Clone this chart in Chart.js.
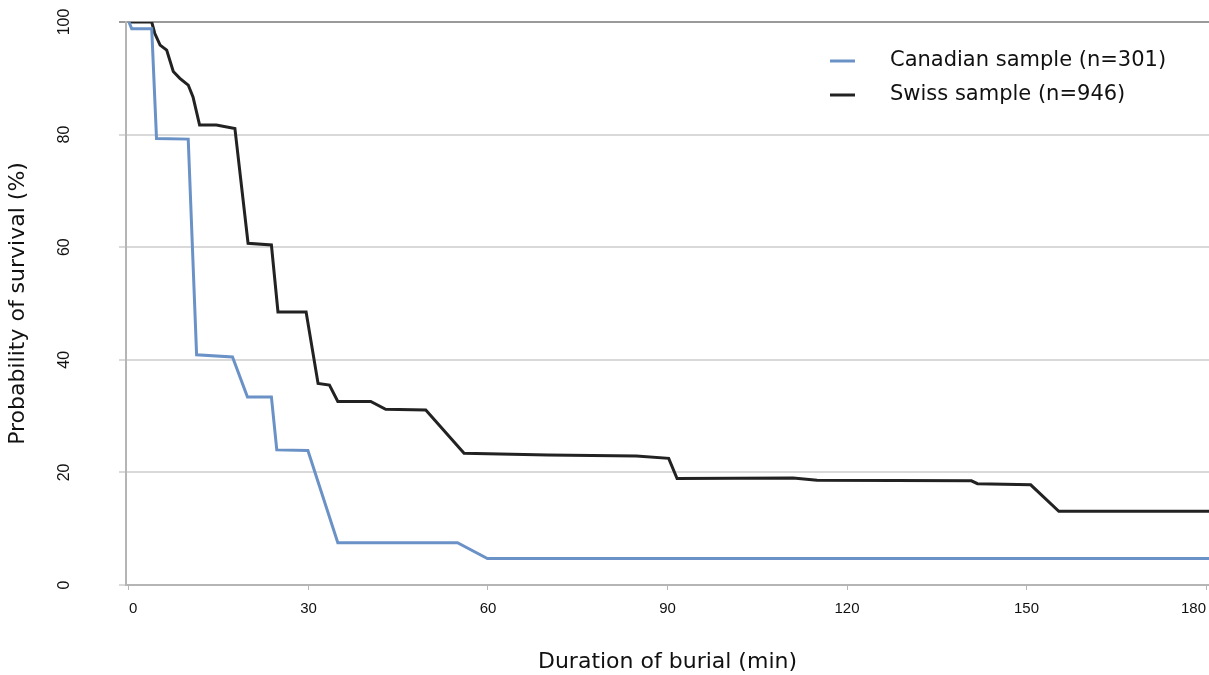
<!DOCTYPE html>
<html>
<head>
<meta charset="utf-8">
<script src="https://cdn.jsdelivr.net/npm/chart.js@4.4.1/dist/chart.umd.min.js"></script>
<style>
  body { margin: 0; background: #ffffff; }
  #wrap { position: relative; width: 1209px; height: 675px; }
</style>
</head>
<body>
<div id="wrap"><canvas id="survChart"></canvas></div>
<script>
// === DATI ===
const canadianLabel = "Canadian sample (n=301)";
const canadianTime = [0, 0.45, 3.8, 4.6, 9.9, 11.3, 17.3, 19.8, 23.8, 24.7, 29.9, 34.9, 54.9, 59.9, 180.5];
const canadianSurv = [100, 98.8, 98.8, 79.3, 79.2, 40.9, 40.5, 33.4, 33.4, 24.0, 23.9, 7.5, 7.5, 4.7, 4.7];

const swissLabel = "Swiss sample (n=946)";
const swissTime = [0, 3.8, 4.3, 5.2, 6.3, 7.4, 8.5, 9.9, 10.7, 11.8, 14.6, 17.7, 19.9, 23.8, 24.9, 29.6, 31.6, 33.5, 34.9, 40.4,
                   42.9, 49.6, 56.0, 70.0, 84.8, 90.2, 91.6, 111, 115, 140.8, 141.8, 150.7, 155.4, 180.5];
const swissSurv = [100, 100, 98.0, 95.9, 95.0, 91.2, 90.0, 88.8, 86.7, 81.7, 81.7, 81.1, 60.7, 60.4, 48.5, 48.5, 35.8, 35.5, 32.6, 32.6,
                   31.2, 31.1, 23.4, 23.1, 22.9, 22.5, 18.9, 19.0, 18.6, 18.5, 18.0, 17.8, 13.1, 13.1];

const xTicks = [0, 30, 60, 90, 120, 150, 180];
const yTicks = [0, 20, 40, 60, 80, 100];

const xTitle = "Duration of burial (min)";
const yTitle = "Probability of survival (%)";

// === COLORI ===
const COLORS = {
    canadian: "#6b92c6",
    swiss: "#222222",
    grid: "#d9d9d9",
    gridTop: "#9a9a9a",
    axis: "#b5b5b5",
    text: "#111111"
};

const TEXT_FONT = "'DejaVu Sans', sans-serif";
const TICK_FONT = "'Liberation Sans', Arial, sans-serif";

function toPoints(xs, ys) {
    return xs.map((x, i) => ({ x: x, y: ys[i] }));
}

// legenda disegnata dentro l'area del grafico, in alto a destra
const insideLegend = {
    id: "insideLegend",
    afterDraw(chart) {
        const ctx = chart.ctx;
        const area = chart.chartArea;
        const x0 = area.right - 379;
        const y0 = area.top + 39;
        ctx.save();
        ctx.font = "21px " + TEXT_FONT;
        ctx.textBaseline = "middle";
        ctx.textAlign = "left";
        chart.data.datasets.forEach((ds, i) => {
            const y = y0 + i * 34;
            ctx.strokeStyle = ds.borderColor;
            ctx.lineWidth = 3;
            ctx.beginPath();
            ctx.moveTo(x0, y);
            ctx.lineTo(x0 + 25, y);
            ctx.stroke();
            ctx.fillStyle = COLORS.text;
            ctx.fillText(ds.label, x0 + 60, y);
        });
        ctx.restore();
    }
};

const ctx = document.getElementById("survChart").getContext("2d");
new Chart(ctx, {
    type: "line",
    data: {
        datasets: [
            {
                label: canadianLabel,
                data: toPoints(canadianTime, canadianSurv),
                borderColor: COLORS.canadian,
                borderWidth: 3,
                pointRadius: 0,
                tension: 0
            },
            {
                label: swissLabel,
                data: toPoints(swissTime, swissSurv),
                borderColor: COLORS.swiss,
                borderWidth: 3,
                pointRadius: 0,
                tension: 0
            }
        ]
    },
    options: {
        responsive: true,
        maintainAspectRatio: false,
        animation: false,
        layout: { padding: { top: 22, right: 0, left: 0, bottom: 0 } },
        plugins: {
            legend: { display: false },
            tooltip: { enabled: false }
        },
        scales: {
            x: {
                type: "linear",
                min: -0.5,
                max: 180.5,
                afterBuildTicks: (scale) => { scale.ticks = xTicks.map(v => ({ value: v })); },
                afterFit: (scale) => {
                    scale.height = 90;
                    scale.paddingLeft = 0;
                    scale.paddingRight = 0;
                },
                ticks: {
                    align: "inner",
                    padding: 10,
                    color: COLORS.text,
                    font: { family: TICK_FONT, size: 15 }
                },
                grid: {
                    drawOnChartArea: false,
                    drawTicks: true,
                    tickLength: 5,
                    color: COLORS.axis
                },
                border: { display: true, color: COLORS.axis, width: 2 },
                title: {
                    display: true,
                    text: xTitle,
                    color: COLORS.text,
                    font: { family: TEXT_FONT, size: 22, lineHeight: 1.2 },
                    padding: { top: 0, bottom: 0 }
                }
            },
            y: {
                min: 0,
                max: 100,
                afterBuildTicks: (scale) => { scale.ticks = yTicks.map(v => ({ value: v })); },
                afterFit: (scale) => {
                    scale.width = 126;
                    scale.paddingTop = 0;
                    scale.paddingBottom = 0;
                },
                ticks: {
                    minRotation: 90,
                    maxRotation: 90,
                    crossAlign: "center",
                    padding: 41,
                    color: COLORS.text,
                    font: { family: TICK_FONT, size: 16 }
                },
                grid: {
                    color: (c) => (c.tick && c.tick.value === 100 ? COLORS.gridTop : COLORS.grid),
                    lineWidth: 2,
                    drawTicks: true,
                    tickLength: 7
                },
                border: { display: true, color: COLORS.axis, width: 2 },
                title: {
                    display: true,
                    text: yTitle,
                    color: COLORS.text,
                    font: { family: TEXT_FONT, size: 22, lineHeight: 1.2 },
                    padding: { top: 5, bottom: 0 }
                }
            }
        }
    },
    plugins: [insideLegend]
});
</script>
</body>
</html>
